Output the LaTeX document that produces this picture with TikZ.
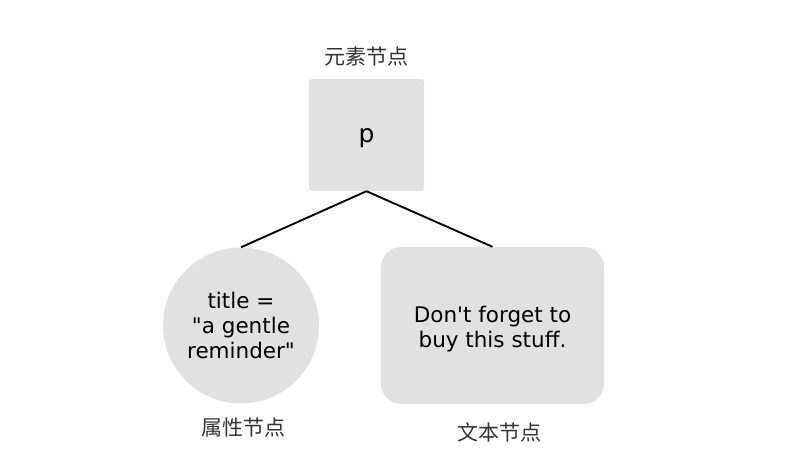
\documentclass[tikz,border=0pt]{standalone}
\usepackage{fontspec}
\setmainfont{DejaVu Sans}[Ligatures=TeXOff]
\newfontfamily\cjk{Noto Sans CJK SC}
\definecolor{boxgrey}{HTML}{E1E1E1}
\begin{document}
\begin{tikzpicture}[x=1pt,y=-1pt,
  shapebox/.style={fill=boxgrey, draw=none, inner sep=0pt, align=center,
    font=\fontsize{21.5}{25}\selectfont},
  cjklabel/.style={font=\cjk\fontsize{21}{24}\selectfont, text=black!80},
  link/.style={draw=black, line width=1.9pt}]
\useasboundingbox (0,0) rectangle (793,464);
\node[shapebox, rectangle, rounded corners=3pt, minimum width=115pt, minimum height=112pt] (p) at (366.5,135) {};
\node[font=\fontsize{25}{28}\selectfont, inner sep=0pt] (pl) at (366.5,138) {p};
\node[shapebox, circle, minimum size=156pt] (attr) at (241,325.5) {title =\\"a gentle\\reminder"};
\node[shapebox, rectangle, rounded corners=20pt, minimum width=223pt, minimum height=157pt] (text) at (492.5,325.5) {};
\node[shapebox, fill=none] (tt) at (492.5,329) {Don't forget to\\buy this stuff.};
\node[cjklabel] (lp) at (366.5,56) {元素节点};
\node[cjklabel] (la) at (243,428) {属性节点};
\node[cjklabel] (lt) at (499,432) {文本节点};
\draw[link] (p.south) -- (attr.north);
\draw[link] (p.south) -- (text.north);
\end{tikzpicture}
\end{document}
